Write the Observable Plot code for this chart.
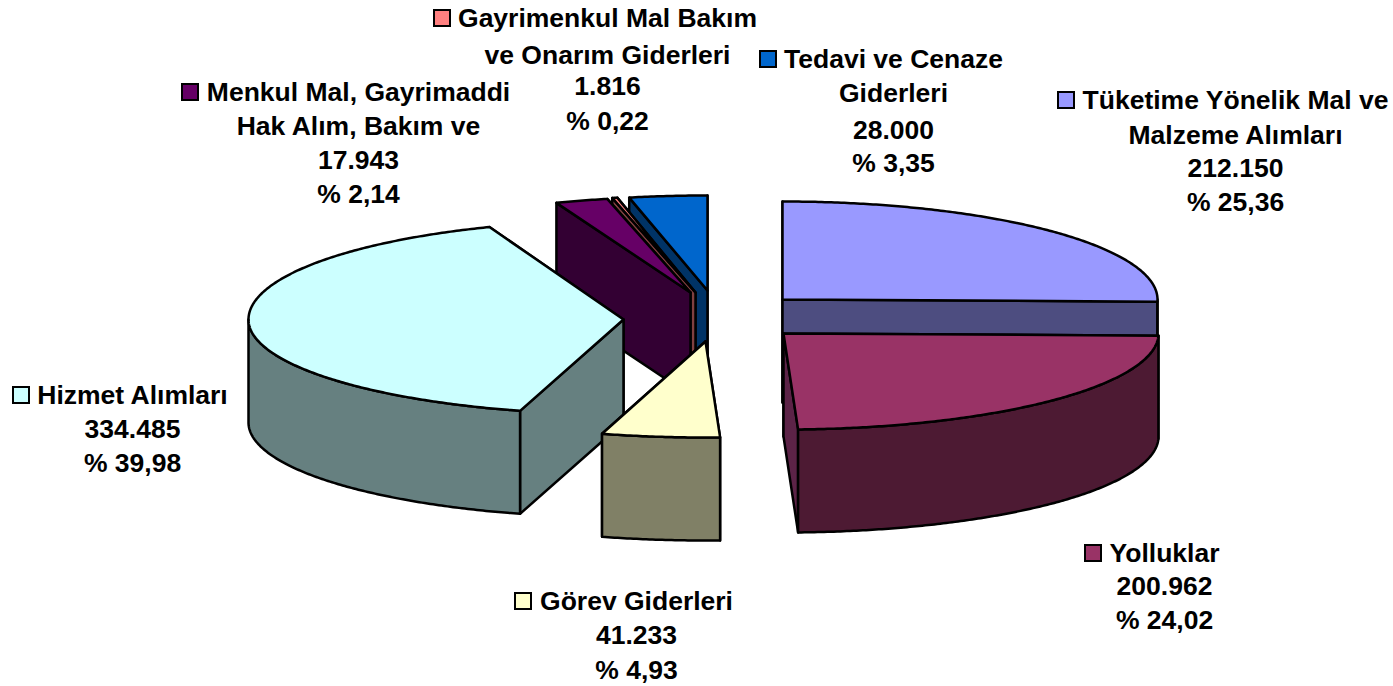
<!DOCTYPE html>
<html>
<head>
<meta charset="utf-8">
<script src="https://cdn.jsdelivr.net/npm/d3@7"></script>
<script src="https://cdn.jsdelivr.net/npm/@observablehq/plot@0.6"></script>
<style>html,body{margin:0;padding:0;background:#fff}svg{display:block}</style>
</head>
<body>
<div id="chart"></div>
<script>
// Data, in the pie's clockwise order from twelve o'clock
const values = [212150, 200962, 41233, 334485, 17943, 1816, 28000];
const percents = ["% 25,36", "% 24,02", "% 4,93", "% 39,98", "% 2,14", "% 0,22", "% 3,35"];
const valueLabels = ["212.150", "200.962", "41.233", "334.485", "17.943", "1.816", "28.000"];
const nameLines = [
  ["Tüketime Yönelik Mal ve", "Malzeme Alımları"],
  ["Yolluklar"],
  ["Görev Giderleri"],
  ["Hizmet Alımları"],
  ["Menkul Mal, Gayrimaddi", "Hak Alım, Bakım ve"],
  ["Gayrimenkul Mal Bakım", "ve Onarım Giderleri"],
  ["Tedavi ve Cenaze", "Giderleri"]
];

// Styles
const topColors = ["#9999FF", "#993366", "#FFFFCC", "#CCFFFF", "#660066", "#FF8080", "#0066CC"];
const wallColors = ["#4D4D80", "#4D1A33", "#808066", "#668080", "#330033", "#804040", "#003366"];
const cutColors = ["#4D4D80", "#5C2347", "#808066", "#668080", "#330033", "#804040", "#003366"];

// Layout: the exploded centre of each slice, the ellipse and the labels
const centerX = [782, 783, 705, 623, 690, 695, 707];
const centerY = [299, 333, 341, 319, 292, 292, 290];
const radiusX = 375, depth = 103;
const radiusBack = [98, 96, 96, 99, 96, 97, 95];   // rim behind the centre
const radiusFront = [96, 96, 96, 95, 96, 96, 96];  // rim in front of the centre
// The drawn edge between two slices sits a little off the true angle in the projection
const edgeNudge = [0, 0, 0, 0.5, -0.4, 0, 0, 0];
const drawOrder = [0, 6, 5, 4, 3, 2, 1];
const labelX = [1235, 1164, 636, 132, 358, 607, 893];
const labelY = [[100, 135, 168, 202], [553, 586, 620], [601, 635, 670], [395, 429, 463], [92, 126, 160, 194], [18, 55, 86, 121], [59, 93, 130, 163]];
const keyX = [1058, 1085, 515, 13, 182, 434, 760];
const keySize = 16, fontSize = 26.5;

const total = d3.sum(values);
const edges = [0, ...d3.cumsum(values)].map((v, k) => v / total * 360 + edgeNudge[k]);
const angles = values.map((v, i) => [edges[i], edges[i + 1]]);
const rad = d => d * Math.PI / 180;
const rim = (i, a, down = 0) => {
  const c = Math.cos(rad(a));
  return [centerX[i] + radiusX * Math.sin(rad(a)), centerY[i] - (c > 0 ? radiusBack[i] : radiusFront[i]) * c + down];
};
const arc = (i, a0, a1, down = 0) => {
  const n = Math.max(2, Math.ceil((a1 - a0) / 0.5) + 1);
  return d3.range(n).map(k => rim(i, a0 + (a1 - a0) * k / (n - 1), down));
};

const faces = [];
let faceCount = 0;
const pushFace = (pts, fill) => {
  const id = faceCount++;
  [...pts, pts[0]].forEach(([x, y]) => faces.push({id, x, y, fill}));
};
for (const i of drawOrder) {
  const [a0, a1] = angles[i];
  const c = [centerX[i], centerY[i]], cd = [centerX[i], centerY[i] + depth];
  // the two cut faces, the one nearer the viewer painted last
  [a0, a1].sort((p, q) => Math.cos(rad(q)) - Math.cos(rad(p))).forEach(a => {
    pushFace([c, rim(i, a), rim(i, a, depth), cd], cutColors[i]);
  });
  // the outer wall, only on the front half of the rim
  const w0 = Math.max(a0, 90), w1 = Math.min(a1, 270);
  if (w1 > w0) pushFace([...arc(i, w0, w1), ...arc(i, w0, w1, depth).reverse()], wallColors[i]);
  // the top
  pushFace([c, ...arc(i, a0, a1)], topColors[i]);
}

const labelRows = values.flatMap((v, i) => {
  const lines = [...nameLines[i], valueLabels[i], percents[i]];
  return lines.map((text, k) => ({text, x: labelX[i], y: labelY[i][k]}));
});
const keys = values.map((v, i) => ({
  x1: keyX[i], x2: keyX[i] + keySize,
  y1: labelY[i][0] - keySize / 2, y2: labelY[i][0] + keySize / 2,
  fill: topColors[i]
}));

const chart = Plot.plot({
  width: 1393,
  height: 686,
  margin: 0,
  style: {background: "#fff"},
  x: {domain: [0, 1393], range: [0, 1393], axis: null},
  y: {domain: [0, 686], range: [0, 686], axis: null},
  marks: [
    Plot.line(faces, {x: "x", y: "y", z: "id", fill: "fill", stroke: "#000", strokeWidth: 2.5, strokeLinejoin: "round", curve: "linear"}),
    Plot.rect(keys, {x1: "x1", x2: "x2", y1: "y1", y2: "y2", fill: "fill", stroke: "#000", strokeWidth: 2}),
    Plot.text(labelRows, {x: "x", y: "y", text: "text", textAnchor: "middle", lineAnchor: "middle", fontFamily: "'Liberation Sans', Arial, sans-serif", fontWeight: "bold", fontSize, fill: "#000"})
  ]
});
document.getElementById("chart").appendChild(chart);
</script>
</body>
</html>
